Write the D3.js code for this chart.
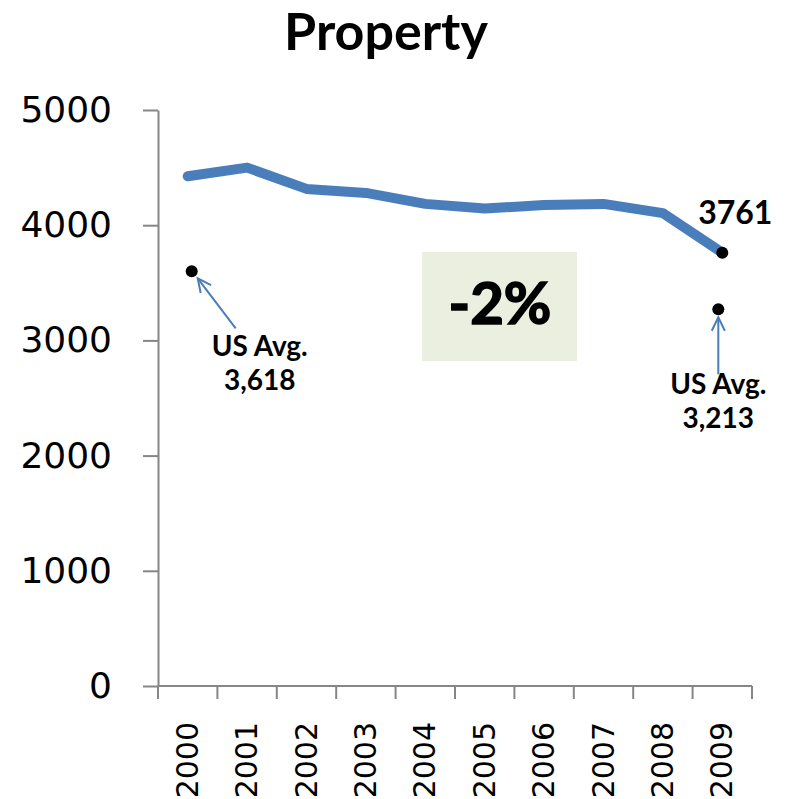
<!DOCTYPE html>
<html>
<head>
<meta charset="utf-8">
<script src="https://cdn.jsdelivr.net/npm/d3@7"></script>
<style>
  body { margin: 0; background: #fff; }
  svg { display: block; }
</style>
</head>
<body>
<div id="chart"></div>
<script>
// data
let years = ["2000", "2001", "2002", "2003", "2004", "2005", "2006", "2007", "2008", "2009"];
let property = [4425, 4500, 4315, 4280, 4185, 4145, 4175, 4185, 4105, 3761];
let y_ticks = [0, 1000, 2000, 3000, 4000, 5000];
let us_avg_years = ["2000", "2009"];
let us_avg_marks = [3600, 3270];
let us_avg_labels = ["3,618", "3,213"];
let change_label = "-2%";

let width = 786, height = 799;
let margin = { left: 158, right: 34, top: 110, bottom: 113 };

let svg = d3.select("#chart")
    .append("svg")
    .attr("width", width)
    .attr("height", height);

let x = d3.scaleBand()
    .domain(years)
    .range([margin.left, width - margin.right])
    .padding(0);

let y = d3.scaleLinear()
    .domain([0, 5000])
    .range([height - margin.bottom, margin.top]);

let cx = d => x(d) + x.bandwidth() / 2;
let axis_color = "#868686";
let blue = "#4a7ebb";

// title
svg.append("text")
    .attr("x", 386)
    .attr("y", 50)
    .attr("text-anchor", "middle")
    .style("font-family", "Lato, sans-serif")
    .style("font-weight", "bold")
    .style("font-size", "52px")
    .text("Property");

// y axis
let y_axis = svg.append("g")
    .attr("transform", `translate(${margin.left},0)`)
    .call(d3.axisLeft(y)
        .tickValues(y_ticks)
        .tickFormat(d3.format("d"))
        .tickSize(15)
        .tickPadding(31)
        .tickSizeOuter(0));
y_axis.select(".domain").attr("stroke", axis_color).attr("stroke-width", 2);
y_axis.selectAll(".tick line").attr("stroke", axis_color).attr("stroke-width", 2);
y_axis.selectAll(".tick text")
    .attr("fill", "#000")
    .style("font-family", "'DejaVu Sans', sans-serif")
    .style("font-size", "36px");

// x axis: ticks at band edges, labels rotated
let x_axis = svg.append("g");
x_axis.append("line")
    .attr("x1", x.range()[0]).attr("x2", x.range()[1])
    .attr("y1", y(0)).attr("y2", y(0))
    .attr("stroke", axis_color).attr("stroke-width", 2);
x_axis.selectAll(".xtick")
    .data(years.map(d => x(d)).concat([x.range()[1]]))
    .enter()
    .append("line")
    .attr("x1", d => d).attr("x2", d => d)
    .attr("y1", y(0)).attr("y2", y(0) + 13)
    .attr("stroke", axis_color).attr("stroke-width", 2);
x_axis.selectAll(".xlabel")
    .data(years)
    .enter()
    .append("text")
    .attr("transform", d => `translate(${cx(d) + 10},${y(0) + 36}) rotate(-90)`)
    .attr("text-anchor", "end")
    .style("font-family", "'DejaVu Sans', sans-serif")
    .style("font-size", "30px")
    .text(d => d);

// change box
svg.append("rect")
    .attr("x", 422).attr("y", 252)
    .attr("width", 155).attr("height", 109)
    .attr("fill", "#ebefe0");
svg.append("text")
    .attr("x", 500).attr("y", 324)
    .attr("text-anchor", "middle")
    .attr("stroke", "#000")
    .attr("stroke-width", 1.6)
    .style("font-family", "Lato, sans-serif")
    .style("font-weight", "bold")
    .style("font-size", "58px")
    .text(change_label);

// the line
let line = d3.line()
    .x((d, i) => cx(years[i]))
    .y(d => y(d));

svg.append("path")
    .datum(property)
    .attr("d", line)
    .attr("fill", "none")
    .attr("stroke", blue)
    .attr("stroke-width", 10)
    .attr("stroke-linecap", "round")
    .attr("stroke-linejoin", "round");

// last value dot and label
let last = years.length - 1;
svg.append("circle")
    .attr("cx", cx(years[last]))
    .attr("cy", y(property[last]))
    .attr("r", 6)
    .attr("fill", "#000");
svg.append("text")
    .attr("x", cx(years[last]) + 13)
    .attr("y", y(property[last]) - 29)
    .attr("text-anchor", "middle")
    .style("font-family", "Lato, sans-serif")
    .style("font-weight", "bold")
    .style("font-size", "32px")
    .text(property[last]);

// US average markers with arrows and labels
let notes = [
    { dx: 4, tip: [6, 7], tail: [44, 57], label: [68, 85] },
    { dx: -4, tip: [0, 8], tail: [0, 65], label: [0, 85] }
];

us_avg_years.forEach((yr, i) => {
    let px = cx(yr) + notes[i].dx;
    let py = y(us_avg_marks[i]);
    let n = notes[i];

    svg.append("circle")
        .attr("cx", px).attr("cy", py)
        .attr("r", 6)
        .attr("fill", "#000");

    let tx = px + n.tip[0], ty = py + n.tip[1];
    let sx = px + n.tail[0], sy = py + n.tail[1];
    let ang = Math.atan2(sy - ty, sx - tx);
    let head = 15, spread = 0.45;

    svg.append("line")
        .attr("x1", sx).attr("y1", sy)
        .attr("x2", tx).attr("y2", ty)
        .attr("stroke", blue).attr("stroke-width", 2);
    svg.append("path")
        .attr("d", `M${tx + head * Math.cos(ang - spread)},${ty + head * Math.sin(ang - spread)}L${tx},${ty}L${tx + head * Math.cos(ang + spread)},${ty + head * Math.sin(ang + spread)}`)
        .attr("fill", "none")
        .attr("stroke", blue).attr("stroke-width", 2);

    let t = svg.append("text")
        .attr("x", px + n.label[0])
        .attr("y", py + n.label[1])
        .attr("text-anchor", "middle")
        .style("font-family", "Lato, sans-serif")
        .style("font-weight", "bold")
        .style("font-size", "28px");
    t.append("tspan").attr("x", px + n.label[0]).text("US Avg.");
    t.append("tspan").attr("x", px + n.label[0]).attr("dy", 34).text(us_avg_labels[i]);
});
</script>
</body>
</html>
